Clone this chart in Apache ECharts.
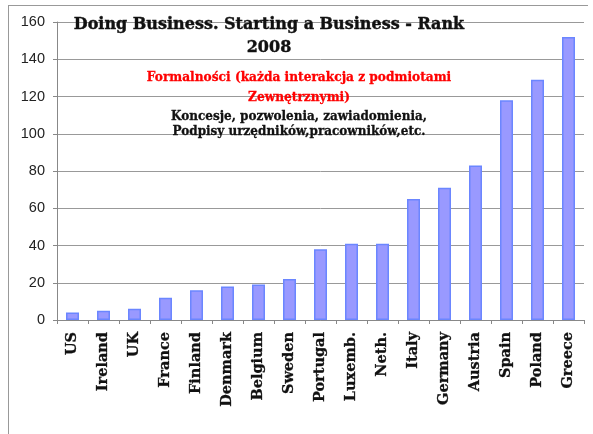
<!DOCTYPE html>
<html><head><meta charset="utf-8">
<script src="https://cdn.jsdelivr.net/npm/echarts@6/dist/echarts.min.js"></script>
<style>html,body{margin:0;padding:0;background:#fff}#c{width:593px;height:434px}</style>
</head><body><div id="c"></div>
<script>
const categories = ["US","Ireland","UK","France","Finland","Denmark","Belgium","Sweden","Portugal","Luxemb.","Neth.","Italy","Germany","Austria","Spain","Poland","Greece"];
const rankValues = [4,5,6,12,16,18,19,22,38,41,41,65,71,83,118,129,152];
const titleText = "Doing Business. Starting a Business - Rank\n2008";
const redText = "Formalności (każda interakcja z podmiotami\nZewnętrznymi)";
const blackText = "Koncesje, pozwolenia, zawiadomienia,\nPodpisy urzędników,pracowników,etc.";

const chart = echarts.init(document.getElementById('c'), null, {renderer:'canvas'});
const serif = '"DejaVu Serif", serif';
chart.setOption({
  animation:false,
  backgroundColor:'#fff',
  grid:{left:57,right:9,top:22,bottom:114,containLabel:false},
  title:[
    {text:titleText,left:264,top:8,textAlign:'center',
     textStyle:{fontFamily:serif,fontWeight:'bold',fontSize:16,lineHeight:23,color:'#111',
       textBorderColor:'#111',textBorderWidth:0.4}},
    {text:redText,left:294,top:63,textAlign:'center',
     textStyle:{fontFamily:serif,fontWeight:'bold',fontSize:12.2,lineHeight:20,color:'#ff0000',
       textBorderColor:'#ff0000',textBorderWidth:0.3}},
    {text:blackText,left:294,top:104,textAlign:'center',
     textStyle:{fontFamily:serif,fontWeight:'bold',fontSize:12,lineHeight:15.5,color:'#111',
       textBorderColor:'#111',textBorderWidth:0.3}}
  ],
  graphic:[
    {type:'line',shape:{x1:8,y1:5.5,x2:588,y2:5.5},style:{stroke:'#999',lineWidth:1}},
    {type:'line',shape:{x1:8.5,y1:5,x2:8.5,y2:434},style:{stroke:'#999',lineWidth:1}}
  ],
  xAxis:{type:'category',data:categories,
    axisLine:{lineStyle:{color:'#888'}},
    axisTick:{show:true,alignWithLabel:false,length:4,lineStyle:{color:'#888'}},
    axisLabel:{rotate:90,interval:0,margin:12,fontFamily:serif,fontWeight:'bold',fontSize:14.5,color:'#111',
      textBorderColor:'#111',textBorderWidth:0.3}},
  yAxis:{type:'value',min:0,max:160,interval:20,
    axisLine:{show:true,lineStyle:{color:'#888'}},
    axisTick:{show:true,length:4,lineStyle:{color:'#888'}},
    splitLine:{lineStyle:{color:'#999'}},
    axisLabel:{fontFamily:'"Liberation Sans", Arial, sans-serif',fontSize:14.5,color:'#222',margin:12}},
  series:[{type:'bar',data:rankValues,barWidth:13,
    itemStyle:{color:'#9999ff',borderColor:'#6b86ff',borderWidth:1.5}}]
});
</script></body></html>
